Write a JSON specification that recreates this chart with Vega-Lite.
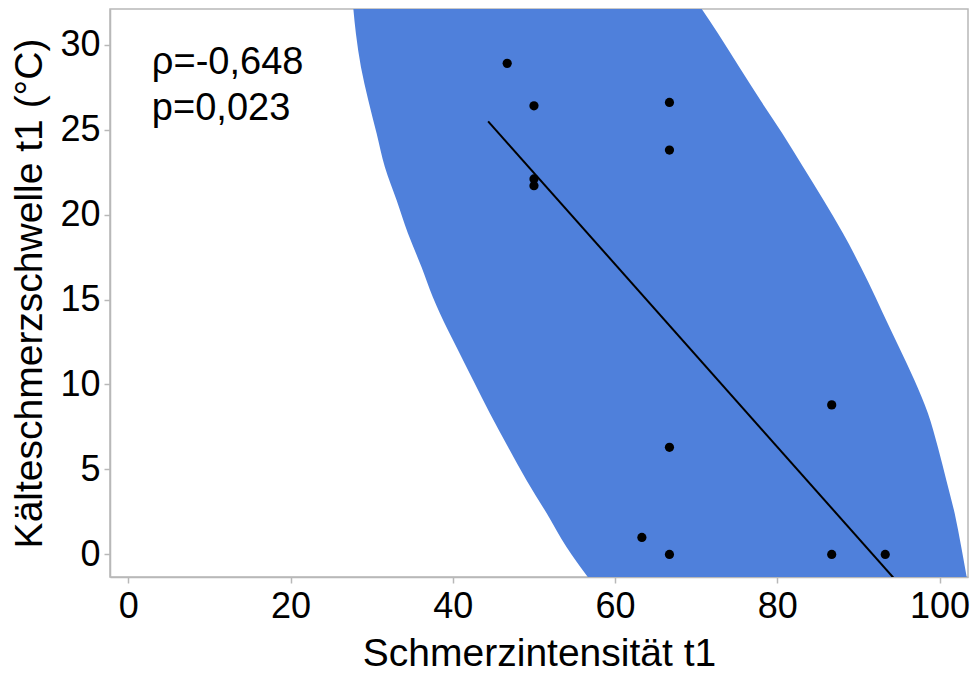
{
  "$schema": "https://vega.github.io/schema/vega-lite/v6.json",
  "width": 858,
  "height": 568,
  "autosize": {"type": "none"},
  "padding": {"left": 110, "top": 9, "right": 6, "bottom": 97},
  "background": "white",
  "config": {
    "font": "Liberation Sans",
    "view": {"stroke": "#b8b8b8", "strokeWidth": 1.5},
    "axis": {
      "grid": false,
      "labelFont": "Liberation Sans",
      "titleFont": "Liberation Sans",
      "labelFontSize": 36,
      "titleFontSize": 39,
      "titleFontWeight": "normal",
      "labelColor": "black",
      "titleColor": "black",
      "domainColor": "#b8b8b8",
      "domainWidth": 1.5,
      "tickColor": "#b8b8b8",
      "tickWidth": 1.5,
      "tickSize": 6
    }
  },
  "datasets": {
    "band": [
      {"y": 32.3, "lo": 27.7, "hi": 70.4},
      {"y": 30.66, "lo": 28.05, "hi": 72.69},
      {"y": 28.68, "lo": 28.67, "hi": 75.3},
      {"y": 26.74, "lo": 29.57, "hi": 77.9},
      {"y": 24.78, "lo": 30.6, "hi": 80.6},
      {"y": 22.78, "lo": 31.63, "hi": 83.2},
      {"y": 20.84, "lo": 33.07, "hi": 85.7},
      {"y": 18.9, "lo": 34.46, "hi": 88.09},
      {"y": 16.9, "lo": 36.15, "hi": 90.3},
      {"y": 15.14, "lo": 37.54, "hi": 92.1},
      {"y": 14.19, "lo": 38.4, "hi": 93.01},
      {"y": 12.19, "lo": 40.46, "hi": 95.0},
      {"y": 10.25, "lo": 42.5, "hi": 96.9},
      {"y": 8.31, "lo": 44.56, "hi": 98.56},
      {"y": 6.31, "lo": 46.82, "hi": 99.79},
      {"y": 4.37, "lo": 49.08, "hi": 100.83},
      {"y": 2.43, "lo": 51.55, "hi": 101.85},
      {"y": 0.43, "lo": 54.01, "hi": 102.67},
      {"y": -1.5, "lo": 56.9, "hi": 103.4}
    ],
    "points": [
      {"x": 46.7, "y": 28.9},
      {"x": 50.0, "y": 26.4},
      {"x": 50.0, "y": 22.1},
      {"x": 50.0, "y": 21.7},
      {"x": 66.7, "y": 26.6},
      {"x": 66.7, "y": 23.8},
      {"x": 86.7, "y": 8.8},
      {"x": 66.7, "y": 6.3},
      {"x": 63.3, "y": 1.0},
      {"x": 66.7, "y": 0.0},
      {"x": 86.7, "y": 0.0},
      {"x": 93.3, "y": 0.0}
    ],
    "fit": [
      {"x": 44.35, "y": 25.49},
      {"x": 94.4, "y": -1.42}
    ],
    "labels": [
      {"x": 2.9, "y": 28.3, "t": "ρ=-0,648"},
      {"x": 2.9, "y": 25.55, "t": "p=0,023"}
    ]
  },
  "layer": [
    {
      "data": {"name": "band"},
      "mark": {"type": "area", "orient": "horizontal", "interpolate": "monotone", "color": "#4f80db", "opacity": 1, "clip": true},
      "encoding": {
        "y": {"field": "y", "type": "quantitative", "scale": {"domain": [-1.33, 32.1], "nice": false, "zero": false},
              "axis": {"values": [0, 5, 10, 15, 20, 25, 30], "title": "Kälteschmerzschwelle t1 (°C)", "labelPadding": 4, "titlePadding": 10}},
        "x": {"field": "lo", "type": "quantitative", "scale": {"domain": [-2.26, 103.5], "nice": false, "zero": false},
              "axis": {"values": [0, 20, 40, 60, 80, 100], "title": "Schmerzintensität t1", "labelPadding": 6, "titlePadding": 10}},
        "x2": {"field": "hi"}
      }
    },
    {
      "data": {"name": "fit"},
      "mark": {"type": "line", "color": "black", "strokeWidth": 2, "clip": true},
      "encoding": {
        "x": {"field": "x", "type": "quantitative"},
        "y": {"field": "y", "type": "quantitative"}
      }
    },
    {
      "data": {"name": "points"},
      "mark": {"type": "circle", "color": "black", "opacity": 1, "size": 85},
      "encoding": {
        "x": {"field": "x", "type": "quantitative"},
        "y": {"field": "y", "type": "quantitative"}
      }
    },
    {
      "data": {"name": "labels"},
      "mark": {"type": "text", "align": "left", "baseline": "alphabetic", "fontSize": 38, "font": "Liberation Sans", "color": "black"},
      "encoding": {
        "x": {"field": "x", "type": "quantitative"},
        "y": {"field": "y", "type": "quantitative"},
        "text": {"field": "t"}
      }
    }
  ]
}
